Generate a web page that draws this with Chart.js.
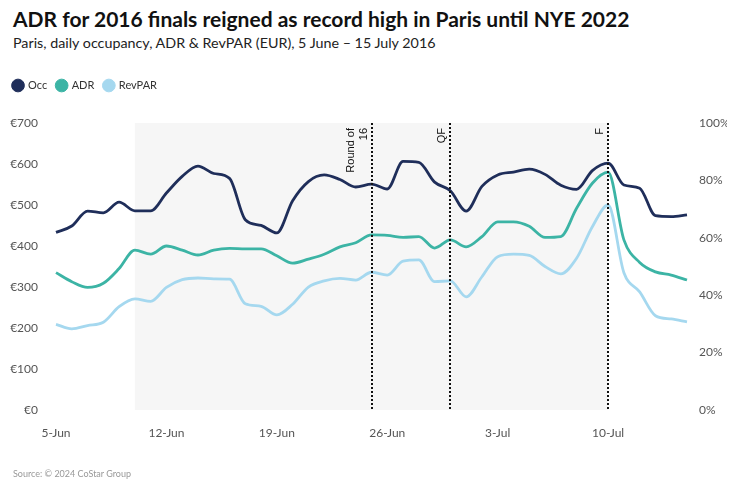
<!DOCTYPE html>
<html>
<head>
<meta charset="utf-8">
<script src="https://cdn.jsdelivr.net/npm/chart.js@4.4.1/dist/chart.umd.min.js"></script>
<style>
  html, body { margin: 0; padding: 0; background: #fff; }
  #wrap { position: relative; width: 742px; height: 487px; overflow: hidden; }
  #chart { position: absolute; left: 0; top: 0; }
  .title { position: absolute; left: 13px; top: 6px; font: bold 21px Lato, sans-serif; color: #111; white-space: nowrap; }
  .subtitle { position: absolute; left: 13px; top: 34px; font: 14.3px Lato, sans-serif; color: #222; white-space: nowrap; }
  .source { position: absolute; left: 13px; top: 468px; font: 9px Lato, sans-serif; color: #999; }
</style>
</head>
<body>
<div id="wrap">
  <div class="title">ADR for 2016 finals reigned as record high in Paris until NYE 2022</div>
  <div class="subtitle">Paris, daily occupancy, ADR &amp; RevPAR (EUR), 5 June – 15 July 2016</div>
  <canvas id="chart" width="742" height="487"></canvas>
  <div class="source">Source: © 2024 CoStar Group</div>
</div>
<script>
// days on the x axis
const days = [
  "5-Jun", "6-Jun", "7-Jun", "8-Jun", "9-Jun", "10-Jun", "11-Jun", "12-Jun", "13-Jun", "14-Jun",
  "15-Jun", "16-Jun", "17-Jun", "18-Jun", "19-Jun", "20-Jun", "21-Jun", "22-Jun", "23-Jun", "24-Jun",
  "25-Jun", "26-Jun", "27-Jun", "28-Jun", "29-Jun", "30-Jun", "1-Jul", "2-Jul", "3-Jul", "4-Jul",
  "5-Jul", "6-Jul", "7-Jul", "8-Jul", "9-Jul", "10-Jul", "11-Jul", "12-Jul", "13-Jul", "14-Jul", "15-Jul"
];
const shownDays = ["5-Jun", "12-Jun", "19-Jun", "26-Jun", "3-Jul", "10-Jul"];

// occupancy (%), right axis
const occ = [
  61.9, 64.1, 69.3, 68.7, 72.4, 69.4, 69.4, 75.6, 81.4, 85.0,
  82.4, 80.7, 66.3, 64.3, 61.7, 72.9, 79.6, 81.9, 80.3, 77.7,
  78.7, 77.0, 86.6, 86.3, 79.4, 76.4, 69.3, 77.9, 81.9, 82.9,
  83.9, 82.1, 78.3, 76.9, 83.4, 86.0, 78.4, 77.3, 67.7, 67.4, 68.0
];
// ADR (EUR), left axis
const adr = [
  335, 313, 299, 309, 345, 390, 380, 400, 390, 378,
  390, 394, 393, 393, 376, 358, 368, 380, 398, 408,
  427, 426, 421, 423, 395, 415, 398, 423, 459, 459,
  448, 421, 423, 492, 553, 580, 415, 360, 337, 329, 317
];
// RevPAR (EUR), left axis
const revpar = [
  209, 198, 206, 214, 252, 271, 265, 299, 318, 322,
  320, 319, 259, 253, 232, 258, 300, 315, 321, 317,
  336, 329, 363, 366, 313, 315, 276, 325, 374, 380,
  377, 350, 332, 370, 447, 500, 335, 288, 230, 222, 215
];

const eurTicks = [0, 100, 200, 300, 400, 500, 600, 700];
const pctTicks = [0, 20, 40, 60, 80, 100];

// tournament period + match markers
const shadeFrom = "10-Jun";
const shadeTo = "10-Jul";
const markers = [
  { day: "25-Jun", text: ["Round of", "16"] },
  { day: "30-Jun", text: ["QF"] },
  { day: "10-Jul", text: ["F"] }
];

const tournament = {
  id: "tournament",
  beforeInit(chart) {
    // push the plot down below the legend
    const fit = chart.legend.fit;
    chart.legend.fit = function () {
      fit.bind(chart.legend)();
      this.height += 22;
    };
  },
  beforeDatasetsDraw(chart) {
    const { ctx, chartArea, scales } = chart;
    const x0 = scales.x.getPixelForValue(days.indexOf(shadeFrom));
    const x1 = scales.x.getPixelForValue(days.indexOf(shadeTo));
    ctx.save();
    ctx.fillStyle = "#f6f6f6";
    ctx.fillRect(x0, chartArea.top, x1 - x0, chartArea.bottom - chartArea.top);
    ctx.restore();
  },
  afterDatasetsDraw(chart) {
    const { ctx, chartArea, scales } = chart;
    markers.forEach(m => {
      const xp = Math.round(scales.x.getPixelForValue(days.indexOf(m.day)));
      ctx.save();
      ctx.strokeStyle = "#111";
      ctx.lineWidth = 2;
      ctx.setLineDash([2, 2]);
      ctx.beginPath();
      ctx.moveTo(xp, chartArea.top);
      ctx.lineTo(xp, chartArea.bottom);
      ctx.stroke();
      ctx.restore();

      ctx.save();
      ctx.translate(xp - 3, chartArea.top + 5);
      ctx.rotate(-Math.PI / 2);
      ctx.font = "11px 'Liberation Sans', Arial, sans-serif";
      ctx.fillStyle = "#111";
      ctx.textAlign = "right";
      ctx.textBaseline = "bottom";
      const n = m.text.length;
      m.text.forEach((t, i) => {
        ctx.fillText(t, 0, -(n - 1 - i) * 13);
      });
      ctx.restore();
    });
  }
};

new Chart(document.getElementById("chart"), {
  type: "line",
  data: {
    labels: days,
    datasets: [
      { label: "Occ", data: occ, yAxisID: "y1", borderColor: "#1f2e5a", backgroundColor: "#1f2e5a" },
      { label: "ADR", data: adr, yAxisID: "y", borderColor: "#3cb4a5", backgroundColor: "#3cb4a5" },
      { label: "RevPAR", data: revpar, yAxisID: "y", borderColor: "#a5d8ef", backgroundColor: "#a5d8ef" }
    ]
  },
  options: {
    responsive: false,
    animation: false,
    devicePixelRatio: 1,
    layout: { padding: { left: 3.5, right: 15, top: 70, bottom: 46 } },
    elements: {
      line: { borderWidth: 2.8, cubicInterpolationMode: "monotone" },
      point: { radius: 0, hoverRadius: 0 }
    },
    plugins: {
      legend: {
        position: "top",
        align: "start",
        labels: {
          usePointStyle: true,
          pointStyle: "circle",
          boxWidth: 9,
          boxHeight: 9,
          padding: 10,
          color: "#333",
          font: { family: "Lato", size: 11 }
        }
      },
      tooltip: { enabled: false }
    },
    scales: {
      x: {
        grid: { display: false, drawTicks: false },
        border: { display: false },
        offset: false,
        afterFit: axis => { axis.paddingLeft = 0; axis.paddingRight = 0; axis.height = 31; },
        ticks: {
          autoSkip: false,
          maxRotation: 0,
          padding: 16,
          color: "#555",
          font: { family: "Lato", size: 12 },
          callback: function (value) {
            const d = days[value];
            return shownDays.includes(d) ? d : null;
          }
        }
      },
      y: {
        position: "left",
        min: 0,
        max: 700,
        grid: { display: false, drawTicks: false },
        border: { display: false },
        afterBuildTicks: axis => { axis.ticks = eurTicks.map(v => ({ value: v })); },
        afterFit: axis => { axis.width = 52.5; },
        ticks: {
          padding: 18,
          color: "#555",
          font: { family: "Lato", size: 12 },
          callback: v => "€" + v
        }
      },
      y1: {
        position: "right",
        min: 0,
        max: 100,
        grid: { display: false, drawTicks: false },
        border: { display: false },
        afterBuildTicks: axis => { axis.ticks = pctTicks.map(v => ({ value: v })); },
        afterFit: axis => { axis.width = 40; },
        ticks: {
          padding: 12,
          color: "#555",
          font: { family: "Lato", size: 12 },
          callback: v => v + "%"
        }
      }
    }
  },
  plugins: [tournament]
});
</script>
</body>
</html>
